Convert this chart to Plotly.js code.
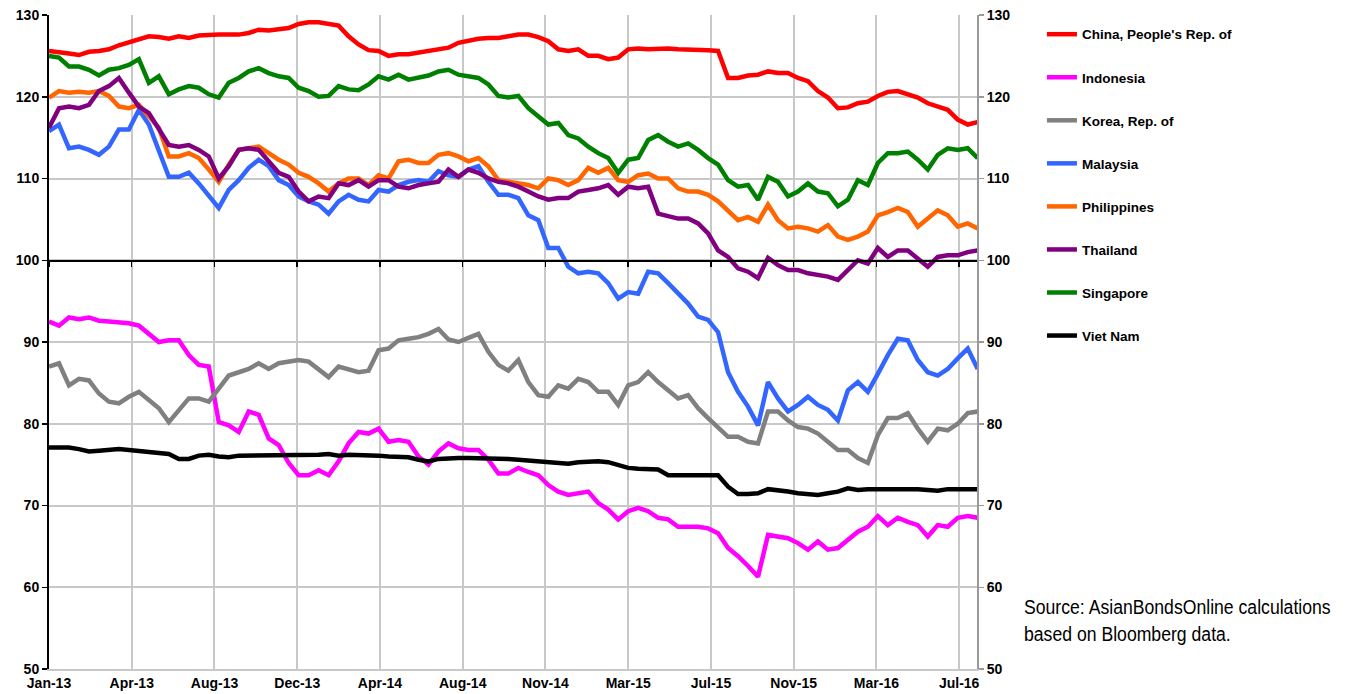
<!DOCTYPE html>
<html lang="en">
<head>
    <meta charset="UTF-8">
    <title>Local currency bond index returns</title>
    <script src="https://cdn.plot.ly/plotly-3.0.1.min.js"></script>
    <style>
        body {
            margin: 0;
            padding: 0;
            background: #fff;
        }

        #chart {
            width: 1349px;
            height: 694px;
        }

        /* no condensed face offline, so squeeze the source note by hand */
        #chart .annotation-text {
            transform-box: fill-box;
            transform-origin: left center;
            transform: scaleX(0.84);
        }
    </style>
</head>
<body>
<div id="chart"></div>
<script>
// readings taken every 14 days, starting 2 Jan 2013
const startDate = '2013-01-02';
const stepDays = 14;

const tickDates = ['2013-01-02', '2013-04-28', '2013-08-22', '2013-12-16', '2014-04-11', '2014-08-05',
    '2014-11-29', '2015-03-25', '2015-07-19', '2015-11-12', '2016-03-07', '2016-07-01'];
const tickLabels = ['Jan-13', 'Apr-13', 'Aug-13', 'Dec-13', 'Apr-14', 'Aug-14',
    'Nov-14', 'Mar-15', 'Jul-15', 'Nov-15', 'Mar-16', 'Jul-16'];

const seriesNames = ["China, People's Rep. of", 'Indonesia', 'Korea, Rep. of', 'Malaysia',
    'Philippines', 'Thailand', 'Singapore', 'Viet Nam'];
const seriesColors = ['#ff0000', '#ff00ff', '#808080', '#3366ff', '#ff6600', '#800080', '#008000', '#000000'];

const china = [
    125.6, 125.5, 125.3, 125.1, 125.5, 125.6, 125.8, 126.3, 126.7, 127.1,
    127.4, 127.3, 127.1, 127.4, 127.2, 127.5, 127.6, 127.6, 127.6, 127.6,
    127.8, 128.2, 128.1, 128.2, 128.4, 128.9, 129.1, 129.1, 128.9, 128.7,
    127.4, 126.4, 125.7, 125.6, 125.0, 125.2, 125.2, 125.4, 125.6, 125.9,
    126.0, 126.6, 126.9, 127.1, 127.2, 127.2, 127.4, 127.6, 127.6, 127.3,
    126.8, 125.8, 125.6, 125.8, 125.0, 125.0, 124.6, 124.8, 125.8, 125.9,
    125.8, 125.9, 125.9, 125.8, 125.8, 125.8, 125.7, 125.6, 122.3, 122.3,
    122.6, 122.7, 123.1, 122.9, 122.9, 122.3, 121.9, 120.7, 119.9, 118.6,
    118.7, 119.2, 119.4, 120.1, 120.6, 120.7, 120.3, 119.9, 119.2, 118.8,
    118.4, 117.2, 116.6, 116.9];
const indonesia = [
    92.5, 92.0, 93.0, 92.8, 93.0, 92.6, 92.5, 92.4, 92.3, 92.0,
    91.0, 90.0, 90.2, 90.2, 88.4, 87.2, 87.0, 80.2, 79.8, 79.0,
    81.5, 81.1, 78.2, 77.4, 75.2, 73.7, 73.7, 74.3, 73.7, 75.4,
    77.6, 79.0, 78.8, 79.4, 77.8, 78.0, 77.8, 76.0, 75.0, 76.6,
    77.6, 77.0, 76.8, 76.8, 75.6, 73.9, 73.9, 74.6, 74.1, 73.7,
    72.5, 71.7, 71.3, 71.5, 71.7, 70.3, 69.5, 68.3, 69.3, 69.7,
    69.3, 68.5, 68.3, 67.4, 67.4, 67.4, 67.2, 66.6, 64.8, 63.8,
    62.6, 61.3, 66.4, 66.2, 66.0, 65.4, 64.6, 65.6, 64.6, 64.8,
    65.8, 66.8, 67.4, 68.7, 67.6, 68.5, 68.0, 67.6, 66.2, 67.6,
    67.4, 68.5, 68.7, 68.5];
const korea = [
    87.0, 87.4, 84.7, 85.5, 85.3, 83.7, 82.7, 82.5, 83.3, 83.9,
    82.9, 81.9, 80.2, 81.7, 83.1, 83.1, 82.7, 84.3, 85.9, 86.3,
    86.7, 87.4, 86.7, 87.4, 87.6, 87.8, 87.6, 86.7, 85.7, 87.0,
    86.7, 86.3, 86.5, 89.0, 89.2, 90.2, 90.4, 90.6, 91.0, 91.6,
    90.3, 90.0, 90.5, 91.0, 88.8, 87.2, 86.5, 87.8, 85.1, 83.5,
    83.3, 84.7, 84.3, 85.5, 85.1, 83.9, 83.9, 82.3, 84.7, 85.1,
    86.3, 85.1, 84.1, 83.1, 83.5, 81.9, 80.7, 79.6, 78.4, 78.4,
    77.8, 77.6, 81.5, 81.5, 80.4, 79.6, 79.4, 78.8, 77.8, 76.8,
    76.8, 75.8, 75.2, 78.6, 80.7, 80.7, 81.3, 79.4, 77.8, 79.4,
    79.2, 80.0, 81.3, 81.5];
const malaysia = [
    115.8, 116.6, 113.7, 113.9, 113.5, 112.9, 113.9, 116.0, 116.0, 118.4,
    116.6, 113.5, 110.2, 110.2, 110.7, 109.4, 107.8, 106.4, 108.6, 109.8,
    111.3, 112.3, 111.5, 109.8, 109.2, 107.8, 107.2, 106.8, 105.7, 107.2,
    108.0, 107.4, 107.2, 108.6, 108.4, 109.2, 109.6, 109.8, 109.6, 110.9,
    110.4, 110.2, 111.1, 111.5, 109.6, 108.0, 108.0, 107.6, 105.5, 104.9,
    101.5, 101.5, 99.2, 98.4, 98.6, 98.4, 97.2, 95.3, 96.1, 95.9,
    98.6, 98.4, 97.2, 95.9, 94.7, 93.1, 92.7, 91.2, 86.3, 83.9,
    82.1, 79.8, 85.1, 83.1, 81.5, 82.3, 83.3, 82.3, 81.7, 80.4,
    84.1, 85.1, 83.9, 86.1, 88.4, 90.4, 90.2, 87.8, 86.3, 85.9,
    86.7, 88.0, 89.2, 86.7];
const philippines = [
    119.9, 120.7, 120.5, 120.6, 120.5, 120.7, 120.1, 118.8, 118.6, 119.0,
    117.6, 116.2, 112.7, 112.7, 113.1, 112.5, 111.1, 109.6, 111.7, 113.5,
    113.7, 113.9, 113.1, 112.3, 111.7, 110.7, 110.2, 109.4, 108.4, 109.4,
    110.0, 110.0, 109.2, 110.4, 110.0, 112.1, 112.3, 111.9, 111.9, 112.9,
    113.1, 112.7, 112.1, 112.5, 111.5, 109.8, 109.6, 109.4, 109.2, 108.8,
    110.0, 109.8, 109.2, 109.8, 111.3, 110.7, 111.3, 109.8, 109.6, 110.4,
    110.6, 110.0, 110.0, 108.8, 108.4, 108.4, 108.0, 107.2, 106.1, 104.9,
    105.3, 104.7, 106.8, 104.9, 103.9, 104.1, 103.9, 103.5, 104.3, 102.9,
    102.5, 102.9, 103.5, 105.5, 105.9, 106.4, 105.9, 104.1, 105.1, 106.1,
    105.5, 104.1, 104.5, 103.9];
const thailand = [
    116.2, 118.6, 118.8, 118.6, 119.0, 120.7, 121.3, 122.3, 120.5, 118.8,
    118.0, 116.0, 114.1, 113.9, 114.1, 113.5, 112.7, 110.0, 111.5, 113.5,
    113.7, 113.5, 112.1, 110.7, 110.2, 108.4, 107.2, 107.8, 107.6, 109.4,
    109.2, 109.8, 109.0, 109.8, 109.8, 109.0, 108.8, 109.2, 109.4, 109.6,
    111.1, 110.2, 111.1, 110.7, 110.0, 109.6, 109.4, 109.0, 108.4, 107.8,
    107.4, 107.6, 107.6, 108.4, 108.6, 108.8, 109.2, 108.0, 109.0, 108.8,
    109.0, 105.7, 105.4, 105.1, 105.1, 104.5, 103.3, 101.2, 100.4, 99.0,
    98.6, 97.8, 100.3, 99.4, 98.8, 98.8, 98.4, 98.2, 98.0, 97.6,
    98.8, 100.0, 99.6, 101.5, 100.4, 101.2, 101.2, 100.2, 99.2, 100.4,
    100.6, 100.6, 101.0, 101.2];
const singapore = [
    125.0, 124.8, 123.7, 123.7, 123.3, 122.6, 123.3, 123.5, 123.9, 124.6,
    121.7, 122.5, 120.3, 120.9, 121.3, 121.1, 120.3, 119.9, 121.7, 122.3,
    123.1, 123.5, 122.9, 122.5, 122.3, 121.1, 120.7, 120.0, 120.1, 121.3,
    120.9, 120.8, 121.5, 122.5, 122.1, 122.7, 122.1, 122.3, 122.6, 123.1,
    123.3, 122.7, 122.5, 122.3, 121.5, 120.1, 119.9, 120.1, 118.6, 117.6,
    116.6, 116.8, 115.3, 114.9, 113.9, 113.1, 112.5, 110.7, 112.3, 112.5,
    114.7, 115.3, 114.5, 113.9, 114.3, 113.5, 112.5, 111.7, 109.8, 109.0,
    109.2, 107.4, 110.2, 109.6, 107.8, 108.4, 109.4, 108.4, 108.2, 106.6,
    107.4, 109.8, 109.2, 111.9, 113.1, 113.1, 113.3, 112.3, 111.1, 112.9,
    113.7, 113.5, 113.7, 112.5];
const vietnam = [
    77.1, 77.1, 77.1, 76.9, 76.6, 76.7, 76.8, 76.9, 76.8, 76.7,
    76.5, 76.4, 76.3, 75.7, 75.7, 76.1, 76.2, 76.0, 75.9, 76.1,
    76.1, 76.2, 76.2, 76.1, 76.1, 76.1, 76.2, 76.2, 76.3, 76.1,
    76.2, 76.2, 76.1, 76.1, 76.0, 76.0, 75.9, 75.6, 75.4, 75.7,
    75.8, 75.8, 75.8, 75.8, 75.8, 75.7, 75.7, 75.6, 75.5, 75.3,
    75.2, 75.2, 75.1, 75.3, 75.4, 75.4, 75.3, 75.0, 74.6, 74.5,
    74.5, 74.4, 73.7, 73.7, 73.7, 73.7, 73.7, 73.7, 72.3, 71.4,
    71.4, 71.5, 72.0, 71.9, 71.7, 71.5, 71.4, 71.3, 71.5, 71.7,
    72.1, 71.9, 72.0, 72.0, 72.0, 72.0, 72.1, 72.0, 71.9, 71.8,
    72.0, 72.0, 72.0, 72.0];

const seriesValues = [china, indonesia, korea, malaysia, philippines, thailand, singapore, vietnam];

const dates = [];
const t0 = new Date(startDate + 'T00:00:00Z');
for (let i = 0; i < china.length; i++) {
    const d = new Date(t0.getTime() + i * stepDays * 86400000);
    dates.push(d.toISOString().slice(0, 10));
}

const tickFont = { family: 'Liberation Sans, Arial, sans-serif', size: 14, color: '#000', weight: 'bold' };
const gridColor = '#c8c8c8';
const xRange = ['2013-01-02', '2016-07-26'];

const traces = seriesNames.map((name, k) => ({
    x: dates,
    y: seriesValues[k],
    type: 'scatter',
    mode: 'lines',
    name: name,
    legendgroup: name,
    line: { color: seriesColors[k], width: 4.5 },
    hoverinfo: 'x+y+name'
}));

// carries the right-hand axis and the axis line drawn at 100
traces.push({
    x: [dates[0]],
    y: [null],
    xaxis: 'x2',
    yaxis: 'y2',
    type: 'scatter',
    mode: 'lines',
    showlegend: false,
    hoverinfo: 'skip'
});

const layout = {
    width: 1349,
    height: 694,
    margin: { l: 49, r: 372, t: 15, b: 25 },
    paper_bgcolor: '#fff',
    plot_bgcolor: '#fff',
    font: { family: 'Liberation Sans, Arial, sans-serif', size: 14, color: '#000' },
    showlegend: true,
    legend: {
        x: 1.070,
        y: 0.994,
        xanchor: 'left',
        yanchor: 'top',
        traceorder: 'grouped',
        tracegroupgap: 22.5,
        font: { family: 'Liberation Sans, Arial, sans-serif', size: 13.5, color: '#000', weight: 'bold' },
        bgcolor: 'rgba(0,0,0,0)'
    },
    xaxis: {
        type: 'date',
        range: xRange,
        tickmode: 'array',
        tickvals: tickDates,
        ticktext: tickLabels,
        tickfont: tickFont,
        ticks: '',
        showgrid: true,
        gridcolor: gridColor,
        gridwidth: 2,
        showline: true,
        linecolor: gridColor,
        linewidth: 2,
        zeroline: false
    },
    xaxis2: {
        type: 'date',
        range: xRange,
        overlaying: 'x',
        anchor: 'free',
        position: 0.625,
        side: 'bottom',
        tickmode: 'array',
        tickvals: tickDates,
        ticks: 'outside',
        ticklen: 5,
        tickwidth: 1.5,
        tickcolor: '#000',
        showticklabels: false,
        showgrid: false,
        showline: true,
        linecolor: '#000',
        linewidth: 1.5,
        zeroline: false
    },
    yaxis: {
        range: [50, 130],
        dtick: 10,
        tickfont: tickFont,
        ticks: 'outside',
        ticklen: 5,
        tickwidth: 1.5,
        tickcolor: '#000',
        showgrid: true,
        gridcolor: gridColor,
        gridwidth: 2,
        showline: true,
        linecolor: '#000',
        linewidth: 2,
        zeroline: false
    },
    yaxis2: {
        range: [50, 130],
        dtick: 10,
        overlaying: 'y',
        side: 'right',
        anchor: 'x',
        tickfont: tickFont,
        ticks: 'outside',
        ticklen: 5,
        tickwidth: 1.5,
        tickcolor: '#999',
        showgrid: false,
        showline: true,
        linecolor: '#999',
        linewidth: 2,
        zeroline: false
    },
    annotations: [{
        xref: 'paper',
        yref: 'paper',
        x: 1.0485,
        y: 0.075,
        xanchor: 'left',
        yanchor: 'middle',
        align: 'left',
        showarrow: false,
        text: 'Source: AsianBondsOnline calculations<br>based on Bloomberg data.',
        font: { family: 'Liberation Sans Narrow, Arial Narrow, sans-serif', size: 21, color: '#000' }
    }]
};

Plotly.newPlot('chart', traces, layout, { displayModeBar: false, staticPlot: true });
</script>
</body>
</html>
